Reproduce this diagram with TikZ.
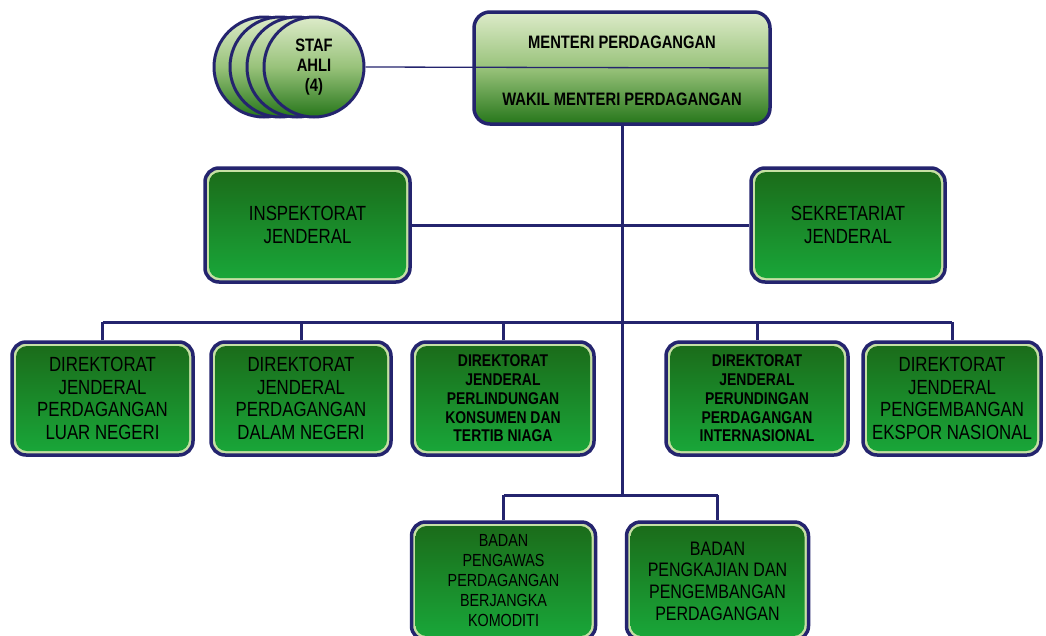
\documentclass[tikz,border=0pt]{standalone}
\usepackage{fontspec}
\setmainfont{Liberation Sans}
\newfontfamily\nar[FakeStretch=0.82]{Liberation Sans}
\definecolor{navy}{HTML}{24246E}
\definecolor{gdark}{HTML}{1B6A19}
\definecolor{gbright}{HTML}{19A83A}
\definecolor{bevel}{HTML}{C6E0A4}
\definecolor{ltop}{HTML}{DDEBC9}
\definecolor{lmid}{HTML}{98C27A}
\definecolor{lbot}{HTML}{26761A}
\tikzset{
  conn/.style={draw=navy, line width=3pt},
  thinconn/.style={draw=navy, line width=1.3pt},
  unitbox/.style={rounded corners=14pt, draw=navy, line width=3.5pt, fill=bevel,
    inner sep=0pt, align=center, font=\nar\fontsize{20.5}{22.7}\selectfont,
    path picture={\shade[top color=gdark, bottom color=gbright, rounded corners=11pt]
      ([shift={(4pt,-4pt)}]path picture bounding box.north west) rectangle
      ([shift={(-4pt,4pt)}]path picture bounding box.south east);}},
  boldbox/.style={unitbox, font=\nar\bfseries\fontsize{17}{18.7}\selectfont},
  badanbox/.style={unitbox, font=\nar\fontsize{17.5}{20}\selectfont},
  topbox/.style={rounded corners=16pt, draw=navy, line width=3.5pt, inner sep=0pt,
    top color=ltop, bottom color=lbot, middle color=lmid},
  toptext/.style={font=\nar\bfseries\fontsize{18}{20}\selectfont, inner sep=0pt},
  staf/.style={circle, draw=navy, line width=3pt, inner sep=0pt, minimum size=100pt,
    top color=ltop, bottom color=lbot, middle color=lmid, align=center,
    font=\nar\bfseries\fontsize{18}{20}\selectfont},
}
\begin{document}
\begin{tikzpicture}[x=1pt, y=-1pt]
\useasboundingbox[fill=white] (0,0) rectangle (1046,635);

% coordinates for junctions
\coordinate (mid) at (622,225);
\coordinate (bus) at (622,322);
\coordinate (split) at (622,495);

% boxes
\node[topbox, minimum width=296pt, minimum height=112pt] (top) at (622,68) {};
\node[toptext] (menteri) at (622,42) {MENTERI PERDAGANGAN};
\node[toptext] (wakil) at (622,99) {WAKIL MENTERI PERDAGANGAN};

\node[staf] (staf1) at (264,67) {};
\node[staf] (staf2) at (280,67) {};
\node[staf] (staf3) at (297,67) {};
\node[staf] (staf4) at (314,67) {STAF\\AHLI\\(4)};

\node[unitbox, minimum width=205pt, minimum height=114pt] (insp) at (307.5,225) {INSPEKTORAT\\JENDERAL};
\node[unitbox, minimum width=194pt, minimum height=114pt] (sek) at (848,225) {SEKRETARIAT\\JENDERAL};

\node[unitbox, minimum width=181pt, minimum height=113pt] (dj1) at (102.5,398.5) {DIREKTORAT\\JENDERAL\\PERDAGANGAN\\LUAR NEGERI};
\node[unitbox, minimum width=180pt, minimum height=113pt] (dj2) at (301,398.5) {DIREKTORAT\\JENDERAL\\PERDAGANGAN\\DALAM NEGERI};
\node[boldbox, minimum width=182pt, minimum height=113pt] (dj3) at (503,398.5) {DIREKTORAT\\JENDERAL\\PERLINDUNGAN\\KONSUMEN DAN\\TERTIB NIAGA};
\node[boldbox, minimum width=182pt, minimum height=113pt] (dj4) at (757,398.5) {DIREKTORAT\\JENDERAL\\PERUNDINGAN\\PERDAGANGAN\\INTERNASIONAL};
\node[unitbox, minimum width=178pt, minimum height=113pt] (dj5) at (952,398.5) {DIREKTORAT\\JENDERAL\\PENGEMBANGAN\\EKSPOR NASIONAL};

\node[badanbox, minimum width=184pt, minimum height=118pt] (bappebti) at (503.5,581) {BADAN\\PENGAWAS\\PERDAGANGAN\\BERJANGKA\\KOMODITI};
\node[badanbox, minimum width=182pt, minimum height=118pt, font=\nar\fontsize{19.5}{21.7}\selectfont] (bppp) at (717.5,581) {BADAN\\PENGKAJIAN DAN\\PENGEMBANGAN\\PERDAGANGAN};

% connectors
\draw[conn] (top.south) -- (split);
\draw[conn] (insp.east) -- (sek.west);
\draw[conn] (dj1.north |- bus) -- (dj5.north |- bus);
\foreach \b in {dj1,dj2,dj3,dj4,dj5} {\draw[conn] (\b.north) -- (\b.north |- bus);}
\draw[conn] (bappebti.north |- split) -- (bppp.north |- split);
\draw[conn] (bappebti.north) -- (bappebti.north |- split);
\draw[conn] (bppp.north) -- (bppp.north |- split);
\draw[thinconn] (staf4.east) -- (top.east);
\end{tikzpicture}
\end{document}
